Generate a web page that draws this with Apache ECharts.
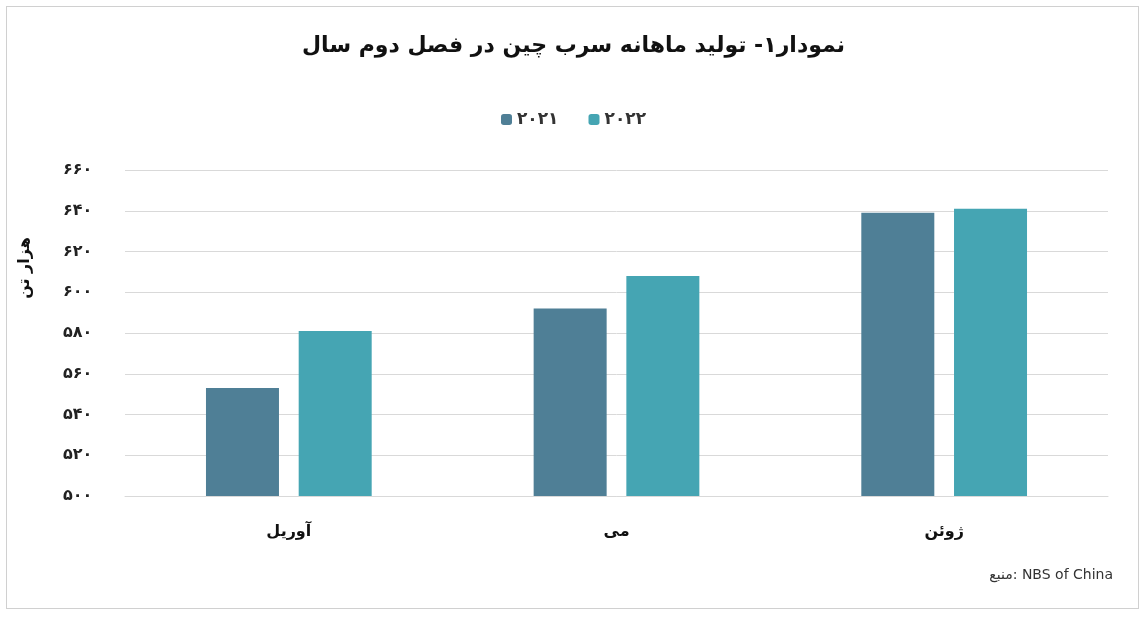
<!DOCTYPE html>
<html><head><meta charset="utf-8">
<script src="https://cdn.jsdelivr.net/npm/echarts@6/dist/echarts.min.js"></script>
<style>html,body{margin:0;padding:0;background:#fff}#c{width:1147px;height:617px}
#f{position:absolute;left:6px;top:6px;width:1133px;height:603px;border:1px solid #d0d0d0;box-sizing:border-box;pointer-events:none}</style>
</head><body><div id="c"></div><div id="f"></div>
<script>
const categories = ['آوریل', 'می', 'ژوئن'];
const series2021 = [553, 592, 639];
const series2022 = [581, 608, 641];
const fa = n => String(n).replace(/\d/g, d => '۰۱۲۳۴۵۶۷۸۹'[d]);
const chart = echarts.init(document.getElementById('c'));
chart.setOption({
  animation: false,
  textStyle: {fontFamily: 'DejaVu Sans'},
  title: {text: 'نمودار۱- تولید ماهانه سرب چین در فصل دوم سال', left: 'center', top: 30,
    textStyle: {fontSize: 22, fontWeight: 'bold', color: '#111', fontFamily: 'DejaVu Sans'}},
  legend: {top: 106, left: 'center', itemWidth: 11, itemHeight: 11, itemGap: 30,
    itemStyle: {borderRadius: 0},
    textStyle: {fontSize: 17, fontWeight: 'bold', color: '#333'},
    formatter: n => fa(n), data: ['2021', '2022']},
  grid: {left: 125, right: 39, top: 170, bottom: 121},
  xAxis: {type: 'category', data: categories, axisTick: {show: false},
    axisLine: {lineStyle: {color: '#d9d9d9'}},
    axisLabel: {fontSize: 16, fontWeight: 'bold', color: '#111', margin: 28}},
  yAxis: {type: 'value', min: 500, max: 660, interval: 20,
    axisLine: {show: false}, axisTick: {show: false},
    splitLine: {lineStyle: {color: '#d9d9d9'}},
    axisLabel: {fontSize: 16, fontWeight: 'bold', color: '#222', margin: 62, align: 'left', formatter: v => fa(v)}},
  series: [
    {name: '2021', type: 'bar', data: series2021, barWidth: 73, barGap: '27%', itemStyle: {color: '#4f7f96'}},
    {name: '2022', type: 'bar', data: series2022, barWidth: 73, itemStyle: {color: '#45a5b3'}}
  ],
  graphic: [
    {type: 'text', right: 34, top: 568, style: {text: 'منبع: NBS of China', fontSize: 14, fill: '#333', fontFamily: 'DejaVu Sans'}},
    {type: 'text', x: 25, y: 268, rotation: Math.PI / 2, style: {text: 'هزار تن', fontSize: 16, fontWeight: 'bold', fill: '#111', align: 'center', verticalAlign: 'middle', fontFamily: 'DejaVu Sans'}}
  ]
});
</script></body></html>
